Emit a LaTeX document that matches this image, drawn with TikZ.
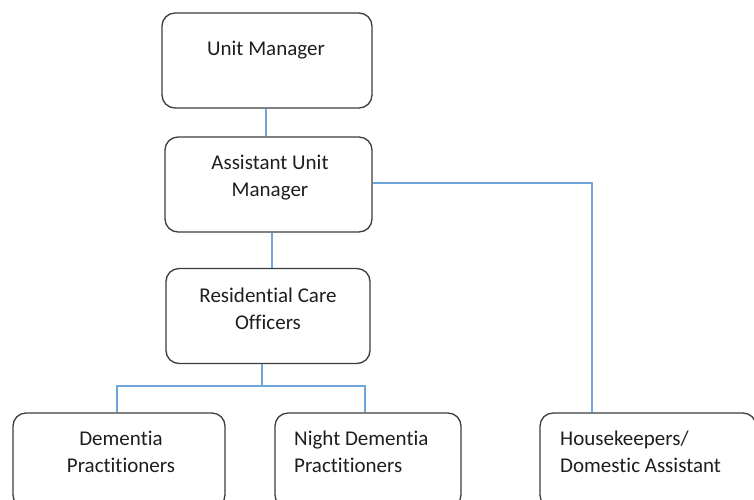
\documentclass[tikz,border=0pt]{standalone}
\usepackage{fontspec}
\setmainfont{Carlito}[Ligatures={NoCommon,NoRare,NoDiscretionary}]
\usepackage{tikz}
\usetikzlibrary{calc}

\definecolor{linkblue}{RGB}{110,165,220}
\definecolor{boxgray}{RGB}{60,60,60}
\definecolor{txtgray}{RGB}{30,30,30}

\tikzset{
	box/.style={draw=boxgray, line width=1.3pt, rounded corners=13pt, minimum width=#1, minimum height=95pt, inner sep=0pt},
	lbl/.style={text=txtgray, font=\fontsize{21}{27}\selectfont, inner sep=0pt},
	link/.style={draw=linkblue, line width=1.1pt}
}

\begin{document}
\begin{tikzpicture}[x=1pt,y=-1pt]
		\useasboundingbox (0,0) rectangle (754,499);
		\clip (0,0) rectangle (754,499);
		% boxes
		\node[box=210pt] (um) at (267,60.5) {};
		\node[box=207pt] (aum) at (268.5,184.5) {};
		\node[box=204pt] (rco) at (268,316) {};
		\node[box=212pt] (dp) at (119,460.5) {};
		\node[box=186pt] (ndp) at (368,460.5) {};
		\node[box=216pt] (hk) at (648,460.5) {};
		% texts
		\node[lbl] (umt) at (266,50) {Unit Manager};
		\node[lbl, align=center] (aumt) at (270,177.5) {Assistant Unit\\Manager};
		\node[lbl, align=center] (rcot) at (268,308.5) {Residential Care\\Officers};
		\node[lbl, align=center] (dpt) at (121,451.5) {Dementia\\Practitioners};
		\node[lbl, align=left, anchor=west] (ndpt) at (294,451.5) {Night Dementia\\Practitioners};
		\node[lbl, align=left, anchor=west] (hkt) at (560,451.5) {Housekeepers/\\Domestic Assistant};
		% links
		\coordinate (split) at (262,386);
		\draw[link] (um.south -| 266,0) -- (aum.north -| 266,0);
		\draw[link] (aum.south -| 272,0) -- (rco.north -| 272,0);
		\draw[link] (rco.south -| split) -- (split);
		\draw[link] (dp.north -| 117,0) |- (split) -| (ndp.north -| 365,0);
		\draw[link] (aum.east |- 0,183) -| (hk.north -| 592,0);
	\end{tikzpicture}
\end{document}
